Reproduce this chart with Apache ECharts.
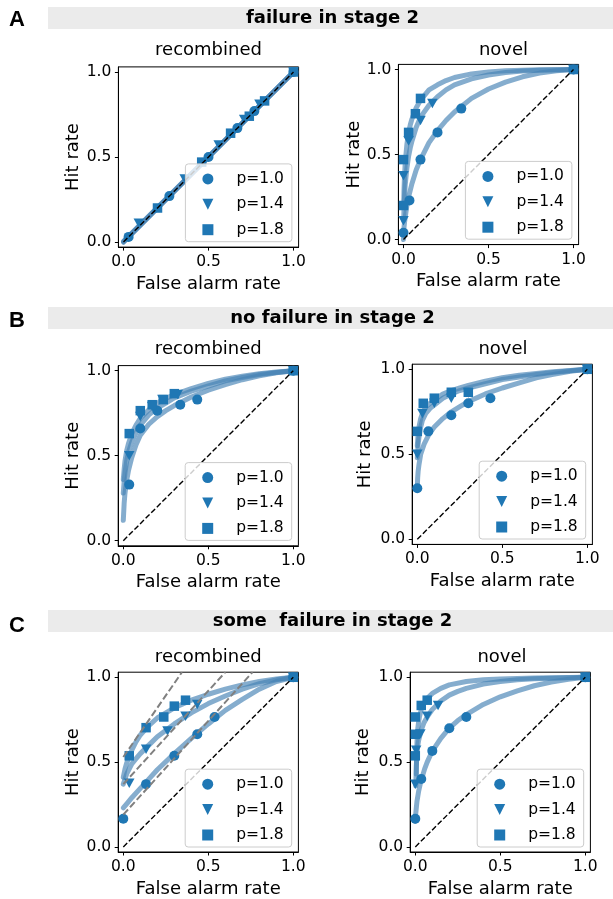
<!DOCTYPE html>
<html><head><meta charset="utf-8">
<script src="https://cdn.jsdelivr.net/npm/echarts@6/dist/echarts.min.js"></script>
<style>html,body{margin:0;padding:0;background:#fff}#c{width:613px;height:899px}</style>
</head><body><div id="c"></div>
<script>
const pLabels = ['p=1.0', 'p=1.4', 'p=1.8'];
const headers = ['failure in stage 2', 'no failure in stage 2', 'some  failure in stage 2'];
const panelLetters = ['A', 'B', 'C'];
const subTitles = ['recombined', 'novel'];
const axisXName = 'False alarm rate';
const axisYName = 'Hit rate';
const tickValues = [0, 0.5, 1];
const diagonal = [[0, 0], [1, 1]];

// ---- A: failure in stage 2, recombined
const aRecP10 = [[0.03,0.03],[0.27,0.27],[0.50,0.50],[0.67,0.67],[0.77,0.77],[1,1]];
const aRecP14 = [[0.09,0.11],[0.36,0.37],[0.56,0.57],[0.71,0.72],[0.80,0.81],[1,1]];
const aRecP18 = [[0.20,0.20],[0.46,0.47],[0.63,0.64],[0.74,0.74],[0.83,0.83],[1,1]];
const aRecFit10 = [[0,0],[1,1]];
const aRecFit14 = [[0,0.005],[1,1]];
const aRecFit18 = [[0,0],[1,1]];
// ---- A: novel
const aNovP10 = [[0,0.04],[0.035,0.23],[0.10,0.47],[0.20,0.63],[0.34,0.77],[1,1]];
const aNovP14 = [[0,0.11],[0,0.375],[0.03,0.58],[0.10,0.70],[0.17,0.80],[1,1]];
const aNovP18 = [[0,0.20],[0,0.47],[0.03,0.63],[0.07,0.74],[0.10,0.83],[1,1]];
const aNovFit10 = [[0,0],[0.001,0.03],[0.003,0.07],[0.006,0.10],[0.01,0.13],[0.02,0.20],[0.03,0.25],[0.05,0.33],[0.075,0.41],[0.1,0.47],[0.15,0.57],[0.2,0.64],[0.25,0.70],[0.3,0.75],[0.4,0.83],[0.5,0.885],[0.6,0.926],[0.7,0.957],[0.8,0.979],[0.9,0.993],[1,1]];
const aNovFit14 = [[0.001,0.11],[0.003,0.18],[0.005,0.23],[0.01,0.32],[0.02,0.42],[0.03,0.49],[0.04,0.54],[0.05,0.58],[0.075,0.66],[0.1,0.72],[0.15,0.79],[0.2,0.84],[0.25,0.88],[0.3,0.91],[0.4,0.945],[0.5,0.968],[0.6,0.982],[0.7,0.991],[0.8,0.996],[1,1]];
const aNovFit18 = [[0.001,0.19],[0.003,0.29],[0.005,0.35],[0.01,0.45],[0.02,0.56],[0.03,0.63],[0.04,0.675],[0.05,0.71],[0.075,0.775],[0.1,0.82],[0.15,0.88],[0.2,0.91],[0.25,0.935],[0.3,0.953],[0.4,0.974],[0.5,0.986],[0.6,0.993],[0.8,0.999],[1,1]];
// ---- B: no failure in stage 2, recombined
const bRecP10 = [[0.035,0.33],[0.10,0.66],[0.20,0.765],[0.335,0.80],[0.435,0.83],[1,1]];
const bRecP14 = [[0.035,0.50],[0.10,0.73],[0.17,0.79],[0.23,0.83],[0.32,0.86],[1,1]];
const bRecP18 = [[0.035,0.63],[0.10,0.765],[0.17,0.80],[0.235,0.83],[0.30,0.865],[1,1]];
const bRecFit10 = [[0,0.12],[0.005,0.22],[0.01,0.28],[0.02,0.355],[0.03,0.41],[0.05,0.49],[0.075,0.565],[0.1,0.62],[0.15,0.685],[0.2,0.73],[0.25,0.765],[0.3,0.795],[0.4,0.845],[0.5,0.885],[0.6,0.918],[0.7,0.947],[0.8,0.97],[0.9,0.988],[1,1]];
const bRecFit14 = [[0,0.28],[0.005,0.35],[0.01,0.40],[0.02,0.47],[0.03,0.52],[0.05,0.58],[0.075,0.635],[0.1,0.68],[0.15,0.74],[0.2,0.78],[0.25,0.81],[0.3,0.84],[0.4,0.88],[0.5,0.91],[0.6,0.94],[0.7,0.96],[0.8,0.978],[0.9,0.99],[1,1]];
const bRecFit18 = [[0,0.36],[0.005,0.42],[0.01,0.47],[0.02,0.53],[0.03,0.57],[0.05,0.63],[0.075,0.68],[0.1,0.72],[0.15,0.77],[0.2,0.81],[0.25,0.837],[0.3,0.86],[0.4,0.895],[0.5,0.925],[0.6,0.95],[0.7,0.967],[0.8,0.982],[0.9,0.992],[1,1]];
// ---- B: novel
const bNovP10 = [[0,0.30],[0.065,0.635],[0.20,0.73],[0.30,0.80],[0.43,0.83],[1,1]];
const bNovP14 = [[0,0.50],[0.03,0.74],[0.10,0.80],[0.20,0.83],[0.30,0.86],[1,1]];
const bNovP18 = [[0,0.635],[0.035,0.80],[0.10,0.83],[0.20,0.865],[0.30,0.865],[1,1]];
const bNovFit10 = [[0,0.30],[0.002,0.36],[0.005,0.40],[0.01,0.44],[0.02,0.50],[0.04,0.56],[0.07,0.62],[0.1,0.66],[0.15,0.71],[0.2,0.75],[0.25,0.78],[0.3,0.81],[0.4,0.855],[0.5,0.89],[0.6,0.92],[0.7,0.95],[0.8,0.97],[0.9,0.988],[1,1]];
const bNovFit14 = [[0,0.48],[0.005,0.56],[0.01,0.60],[0.02,0.66],[0.03,0.70],[0.05,0.74],[0.075,0.77],[0.1,0.79],[0.15,0.83],[0.2,0.855],[0.25,0.875],[0.3,0.89],[0.4,0.915],[0.5,0.94],[0.6,0.955],[0.7,0.97],[0.8,0.982],[0.9,0.992],[1,1]];
const bNovFit18 = [[0,0.55],[0.005,0.62],[0.01,0.66],[0.02,0.71],[0.03,0.74],[0.05,0.78],[0.075,0.80],[0.1,0.82],[0.15,0.855],[0.2,0.875],[0.25,0.89],[0.3,0.905],[0.4,0.93],[0.5,0.95],[0.6,0.965],[0.7,0.975],[0.8,0.985],[0.9,0.993],[1,1]];
// ---- C: some failure in stage 2, recombined
const cRecP10 = [[0,0.166],[0.134,0.37],[0.30,0.537],[0.435,0.664],[0.537,0.766],[1,1]];
const cRecP14 = [[0.035,0.375],[0.134,0.576],[0.26,0.684],[0.366,0.77],[0.435,0.84],[1,1]];
const cRecP18 = [[0.035,0.537],[0.134,0.703],[0.238,0.766],[0.30,0.83],[0.366,0.865],[1,1]];
const cRecFit10 = [[0,0.23],[0.025,0.26],[0.05,0.29],[0.1,0.345],[0.15,0.40],[0.2,0.455],[0.3,0.55],[0.4,0.64],[0.5,0.725],[0.6,0.805],[0.7,0.87],[0.8,0.93],[0.9,0.975],[1,1]];
const cRecFit14 = [[0,0.37],[0.01,0.40],[0.02,0.43],[0.035,0.46],[0.05,0.49],[0.075,0.52],[0.1,0.55],[0.15,0.60],[0.2,0.65],[0.3,0.725],[0.4,0.79],[0.5,0.845],[0.6,0.89],[0.7,0.93],[0.8,0.962],[0.9,0.985],[1,1]];
const cRecFit18 = [[0,0.41],[0.01,0.46],[0.02,0.495],[0.03,0.52],[0.05,0.57],[0.075,0.62],[0.1,0.66],[0.15,0.715],[0.2,0.76],[0.3,0.82],[0.4,0.865],[0.5,0.9],[0.6,0.93],[0.7,0.955],[0.8,0.975],[0.9,0.99],[1,1]];
const cRecGuide10 = [[0,0.19],[0.76,1.03]];
const cRecGuide14 = [[0,0.37],[0.60,1.03]];
const cRecGuide18 = [[0,0.53],[0.345,1.03]];
// ---- C: novel
const cNovP10 = [[0,0.166],[0.035,0.40],[0.10,0.566],[0.20,0.70],[0.30,0.766],[1,1]];
const cNovP14 = [[0,0.37],[0.005,0.57],[0.03,0.665],[0.07,0.77],[0.134,0.834],[1,1]];
const cNovP18 = [[0,0.537],[0,0.664],[0,0.766],[0.035,0.834],[0.07,0.865],[1,1]];
const cNovFit10 = [[0,0.15],[0.002,0.19],[0.005,0.22],[0.01,0.27],[0.02,0.33],[0.03,0.375],[0.04,0.41],[0.055,0.46],[0.07,0.50],[0.1,0.565],[0.15,0.64],[0.2,0.70],[0.25,0.745],[0.3,0.78],[0.4,0.84],[0.5,0.885],[0.6,0.92],[0.7,0.95],[0.8,0.972],[0.9,0.988],[1,1]];
const cNovFit14 = [[0.003,0.36],[0.006,0.48],[0.01,0.55],[0.015,0.60],[0.02,0.63],[0.035,0.69],[0.05,0.73],[0.075,0.775],[0.1,0.81],[0.15,0.86],[0.2,0.895],[0.25,0.917],[0.3,0.935],[0.4,0.96],[0.5,0.975],[0.6,0.985],[0.7,0.991],[0.8,0.995],[1,1]];
const cNovFit18 = [[0.006,0.43],[0.008,0.55],[0.01,0.62],[0.015,0.70],[0.02,0.74],[0.025,0.77],[0.035,0.81],[0.05,0.845],[0.075,0.88],[0.1,0.905],[0.15,0.935],[0.2,0.955],[0.3,0.975],[0.4,0.985],[0.5,0.99],[0.7,0.996],[1,1]];

const panels = [
  { pts: [aRecP10, aRecP14, aRecP18], fits: [aRecFit10, aRecFit14, aRecFit18], guides: [] },
  { pts: [aNovP10, aNovP14, aNovP18], fits: [aNovFit10, aNovFit14, aNovFit18], guides: [] },
  { pts: [bRecP10, bRecP14, bRecP18], fits: [bRecFit10, bRecFit14, bRecFit18], guides: [] },
  { pts: [bNovP10, bNovP14, bNovP18], fits: [bNovFit10, bNovFit14, bNovFit18], guides: [] },
  { pts: [cRecP10, cRecP14, cRecP18], fits: [cRecFit10, cRecFit14, cRecFit18], guides: [cRecGuide10, cRecGuide14, cRecGuide18] },
  { pts: [cNovP10, cNovP14, cNovP18], fits: [cNovFit10, cNovFit14, cNovFit18], guides: [] }
];

// layout (pixels)
const SZ = 180.2;
const layout = [
  { left: 118.4, top: 66.9, titleX: 208.5, titleY: 50, yGap: 36, xGap: 28 },
  { left: 398.4, top: 64.4, titleX: 503.5, titleY: 50, yGap: 15, xGap: 28 },
  { left: 118.2, top: 365.6, titleX: 208.3, titleY: 349, yGap: 36, xGap: 28 },
  { left: 412.2, top: 364.2, titleX: 503, titleY: 349, yGap: 38, xGap: 28 },
  { left: 118.2, top: 672.2, titleX: 208.3, titleY: 657, yGap: 36, xGap: 28 },
  { left: 410.2, top: 672.2, titleX: 502, titleY: 657, yGap: 38, xGap: 28 }
];
const headerY = [18, 318, 621];
const letterY = [20, 321, 626];

const FONT = 'DejaVu Sans';
const blue = '#1f77b4';
const fitColor = 'rgba(70,130,180,0.66)';
const symbols = ['circle', 'path://M0,0L10,0L5,10Z', 'path://M0,0L10,0L10,10L0,10Z'];
const symSizes = [10, [10.5, 9.5], 9.5];

const grids = [], xAxes = [], yAxes = [], series = [], legends = [], graphics = [];
const fmt = v => Number(v).toFixed(1);

layout.forEach((L, i) => {
  grids.push({ left: L.left, top: L.top, width: SZ, height: SZ, show: true, borderColor: '#000', borderWidth: 1, backgroundColor: 'transparent' });
  const common = {
    gridIndex: i, type: 'value', min: -0.03, max: 1.03,
    axisLine: { show: true, onZero: false, lineStyle: { color: '#000', width: 1 } },
    axisTick: { show: true, inside: false, length: 3.5, lineStyle: { color: '#000', width: 1 }, customValues: tickValues },
    axisLabel: { show: true, color: '#000', fontSize: 15.5, fontFamily: FONT, margin: 7, formatter: fmt, customValues: tickValues },
    splitLine: { show: false },
    nameLocation: 'middle',
    nameTextStyle: { fontSize: 18, color: '#000', fontFamily: FONT }
  };
  xAxes.push(Object.assign({}, common, { name: axisXName, nameGap: L.xGap, position: 'bottom' }));
  yAxes.push(Object.assign({}, common, { name: axisYName, nameGap: L.yGap, position: 'left' }));

  const P = panels[i];
  P.fits.forEach((f, k) => {
    series.push({ type: 'line', name: 'fit ' + pLabels[k], xAxisIndex: i, yAxisIndex: i, data: f, showSymbol: false, symbol: 'none',
      smooth: false, clip: true, z: 2, silent: true,
      lineStyle: { color: fitColor, width: 5, cap: 'round', join: 'round' } });
  });
  P.pts.forEach((p, k) => {
    series.push({ type: 'scatter', name: pLabels[k], xAxisIndex: i, yAxisIndex: i, data: p, symbol: symbols[k], symbolSize: symSizes[k],
      itemStyle: { color: blue, opacity: 1 }, z: 3, clip: false, silent: true });
  });
  P.guides.forEach((g, k) => {
    series.push({ type: 'line', name: 'guide ' + k, xAxisIndex: i, yAxisIndex: i, data: g, showSymbol: false, symbol: 'none', clip: true, z: 4, silent: true,
      lineStyle: { color: '#808080', width: 2, type: [7, 3] } });
  });
  series.push({ type: 'line', name: 'chance', xAxisIndex: i, yAxisIndex: i, data: diagonal, showSymbol: false, symbol: 'none', z: 5, silent: true,
    lineStyle: { color: '#000', width: 1.4, type: [5.5, 2.4] } });

  legends.push({
    data: pLabels, orient: 'vertical', left: L.left + 67, top: L.top + 97,
    itemWidth: 11, itemHeight: 11, itemGap: 9.4, padding: [7, 8, 4, 17], selectedMode: false,
    backgroundColor: 'rgba(255,255,255,0.8)', borderColor: '#cccccc', borderWidth: 1, borderRadius: 3,
    textStyle: { fontSize: 15.5, color: '#000', fontFamily: FONT, padding: [0, 0, 0, 18] }, z: 10
  });

  graphics.push({ type: 'text', x: L.titleX, y: L.titleY, style: { text: subTitles[i % 2], fill: '#000', font: '18px "DejaVu Sans"', textAlign: 'center', textVerticalAlign: 'middle' } });
});

headers.forEach((h, j) => {
  graphics.push({ type: 'rect', shape: { x: 48, y: headerY[j] - 11, width: 565, height: 22 }, style: { fill: '#ebebeb' }, z: 0 });
  graphics.push({ type: 'text', x: 332.5, y: headerY[j], style: { text: h, fill: '#000', font: 'bold 18px "DejaVu Sans"', textAlign: 'center', textVerticalAlign: 'middle' }, z: 1 });
  graphics.push({ type: 'text', x: 9, y: letterY[j], style: { text: panelLetters[j], fill: '#000', font: 'bold 22px "Liberation Sans"', textAlign: 'left', textVerticalAlign: 'middle' }, z: 1 });
});

const chart = echarts.init(document.getElementById('c'), null, { renderer: 'canvas' });
chart.setOption({
  animation: false,
  backgroundColor: '#fff',
  textStyle: { fontFamily: FONT },
  grid: grids, xAxis: xAxes, yAxis: yAxes, series: series, legend: legends,
  graphic: graphics
});
</script></body></html>
